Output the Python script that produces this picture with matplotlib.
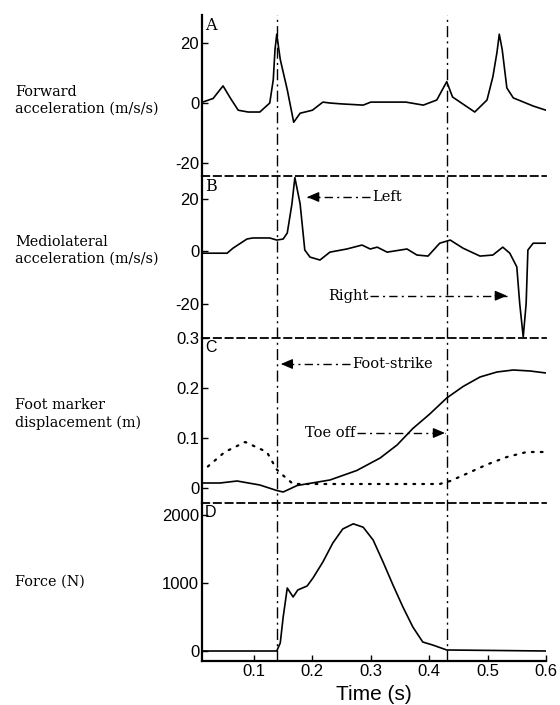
import numpy as np
import matplotlib.pyplot as plt
from matplotlib.lines import Line2D
from matplotlib.transforms import blended_transform_factory

plt.rcParams['axes.unicode_minus'] = False

# Panel A: forward acceleration (m/s/s)
t_fwd = [0.012, 0.03, 0.047, 0.06, 0.073, 0.09, 0.11, 0.127, 0.133, 0.136, 0.139,
         0.145, 0.157, 0.168, 0.179, 0.20, 0.218, 0.23, 0.25, 0.287, 0.30, 0.36,
         0.39, 0.413, 0.43, 0.44, 0.478, 0.499, 0.509, 0.516, 0.52, 0.525, 0.533,
         0.544, 0.578, 0.6]
fwd_acc = [0.3, 1.5, 5.7, 1.5, -2.4, -3, -3, 0, 7.7, 17.8, 22.9,
           14.5, 4.4, -6.4, -3.4, -2.4, 0.3, 0, -0.3, -0.7, 0.3, 0.3,
           -0.7, 1, 7.1, 2, -3, 1, 8.7, 16.8, 22.9, 17.8, 5,
           1.7, -1, -2.4]

# Panel B: mediolateral acceleration (m/s/s)
t_ml = [0.013, 0.037, 0.054, 0.064, 0.088, 0.098, 0.127, 0.139, 0.15, 0.157, 0.165,
        0.170, 0.179, 0.187, 0.196, 0.213, 0.230, 0.259, 0.285, 0.299, 0.311, 0.328,
        0.362, 0.379, 0.398, 0.418, 0.436, 0.458, 0.487, 0.509, 0.526, 0.538, 0.550,
        0.555, 0.561, 0.566, 0.569, 0.578, 0.6]
ml_acc = [-0.8, -0.8, -0.8, 1.1, 4.6, 5, 5, 4.2, 4.6, 6.9, 18,
          28, 18, 0.4, -2.3, -3.4, -0.4, 0.8, 2.3, 0.8, 1.5, -0.4,
          0.8, -1.5, -1.9, 3, 4.2, 1.1, -1.9, -1.5, 1.5, -0.8, -6,
          -20, -32.7, -20, 0.4, 3, 3]

# Panel C: foot marker displacement (m), solid and dotted
t_disp1 = [0.013, 0.042, 0.071, 0.110, 0.139, 0.150, 0.174, 0.230, 0.276, 0.316,
           0.345, 0.372, 0.401, 0.430, 0.458, 0.487, 0.516, 0.544, 0.573, 0.6]
disp1 = [0.01, 0.01, 0.014, 0.006, -0.005, -0.008, 0.005, 0.016, 0.035, 0.06,
         0.086, 0.119, 0.148, 0.18, 0.203, 0.222, 0.232, 0.236, 0.234, 0.23]
t_disp2 = [0.021, 0.050, 0.085, 0.122, 0.139, 0.150, 0.167, 0.418, 0.436, 0.465,
           0.499, 0.533, 0.567, 0.595]
disp2 = [0.043, 0.072, 0.092, 0.072, 0.037, 0.025, 0.008, 0.008, 0.014, 0.029,
         0.047, 0.062, 0.072, 0.072]

# Panel D: force (N)
t_force = [0.012, 0.139, 0.141, 0.145, 0.150, 0.157, 0.167, 0.175, 0.191, 0.201,
           0.218, 0.235, 0.252, 0.270, 0.287, 0.304, 0.321, 0.338, 0.355, 0.372,
           0.389, 0.406, 0.430, 0.6]
force = [0, 0, 40, 118, 500, 926, 794, 897, 956, 1073,
         1309, 1588, 1794, 1870, 1820, 1632, 1309, 970, 647, 353,
         132, 88, 15, 0]

event_times = [0.14, 0.43]
panel_letters = ['A', 'B', 'C', 'D']
panel_labels = ['Forward\nacceleration (m/s/s)', 'Mediolateral\nacceleration (m/s/s)',
                'Foot marker\ndisplacement (m)', 'Force (N)']
x_ticks = [0.1, 0.2, 0.3, 0.4, 0.5, 0.6]

serif = ['DejaVu Serif']
narrow = ['Liberation Sans Narrow', 'Liberation Sans', 'DejaVu Sans']

fig = plt.figure(figsize=(5.6, 7.05), dpi=100)

# panel boundaries in pixels from top
edges = [15, 176, 338, 503, 661]
left, right = 202 / 560, 546 / 560
axes = []
for i in range(4):
    top = 1 - edges[i] / 705
    bot = 1 - edges[i + 1] / 705
    ax = fig.add_axes([left, bot, right - left, top - bot])
    axes.append(ax)

ylims = [(-24.3, 29.3), (-33.1, 28.6), (-0.03, 0.3), (-147, 2176)]
yticks = [[-20, 0, 20], [-20, 0, 20], [0, 0.1, 0.2, 0.3], [0, 1000, 2000]]
ylabel_y = [100, 250, 414, 582]

for i, ax in enumerate(axes):
    ax.set_xlim(0.011, 0.6)
    ax.set_ylim(*ylims[i])
    ax.set_yticks(yticks[i])
    if i == 2:
        ax.set_yticklabels(['0', '0.1', '0.2', '0.3'])
    ax.spines['right'].set_visible(False)
    ax.spines['left'].set_linewidth(1.6)
    if i == 0:
        ax.spines['top'].set_visible(False)
    else:
        ax.spines['top'].set_linestyle((0, (4, 2.5)))
        ax.spines['top'].set_linewidth(1.3)
    if i < 3:
        ax.spines['bottom'].set_visible(False)
        ax.set_xticks([])
    else:
        ax.spines['bottom'].set_linewidth(1.6)
        ax.set_xticks(x_ticks)
        ax.set_xticklabels([f'{v:.1f}' for v in x_ticks])
    ax.tick_params(direction='in', length=4, width=1, labelsize=12, pad=2)
    for lab in ax.get_yticklabels() + ax.get_xticklabels():
        lab.set_family(narrow)
    ax.patch.set_visible(False)
    ax.text(0.008, 0.985, panel_letters[i], transform=ax.transAxes, va='top',
            ha='left', fontsize=11.5, family=serif if i < 2 else narrow)
    fig.text(15 / 560, 1 - ylabel_y[i] / 705, panel_labels[i], ha='left',
             va='center', fontsize=10.4, family=serif, linespacing=1.25)

axes[0].plot(t_fwd, fwd_acc, color='k', lw=1.2)
axes[1].plot(t_ml, ml_acc, color='k', lw=1.2)
axes[2].plot(t_disp1, disp1, color='k', lw=1.2)
axes[2].plot(t_disp2, disp2, color='k', lw=1.6, linestyle=(0, (0.8, 3.2)),
             dash_capstyle='round')
axes[3].plot(t_force, force, color='k', lw=1.2)

# vertical event lines spanning all panels
trans = blended_transform_factory(axes[3].transData, fig.transFigure)
for t in event_times:
    fig.add_artist(Line2D([t, t], [1 - edges[-1] / 705, 1 - edges[0] / 705],
                          transform=trans, color='k', lw=1.0,
                          linestyle=(0, (8, 3, 1.5, 3))))


def arrow_note(ax, text, text_x, tip_x, y, text_on_left):
    ha = 'right' if text_on_left else 'left'
    ax.text(text_x, y, text, ha=ha, va='center', fontsize=10.5, family=serif)
    gap = 0.003
    start = text_x + gap if text_on_left else text_x - gap
    ax.plot([start, tip_x], [y, y], color='k', lw=1.0, linestyle=(0, (6, 3, 1.5, 3)))
    head_from = tip_x - 0.02 if text_on_left else tip_x + 0.02
    ax.annotate('', xy=(tip_x, y), xytext=(head_from, y),
                arrowprops=dict(arrowstyle='-|>,head_length=0.7,head_width=0.3',
                                color='k', lw=1.0, shrinkA=0, shrinkB=0))


arrow_note(axes[1], 'Left', 0.302, 0.191, 20.6, False)
arrow_note(axes[1], 'Right', 0.296, 0.533, -17, True)
arrow_note(axes[2], 'Foot-strike', 0.268, 0.146, 0.248, False)
arrow_note(axes[2], 'Toe off', 0.273, 0.427, 0.11, True)

fig.text(374 / 560, 1 - 695 / 705, 'Time (s)', ha='center', va='center',
         fontsize=15, family=['Liberation Sans', 'DejaVu Sans'])

fig.savefig('out.png', dpi=100)
